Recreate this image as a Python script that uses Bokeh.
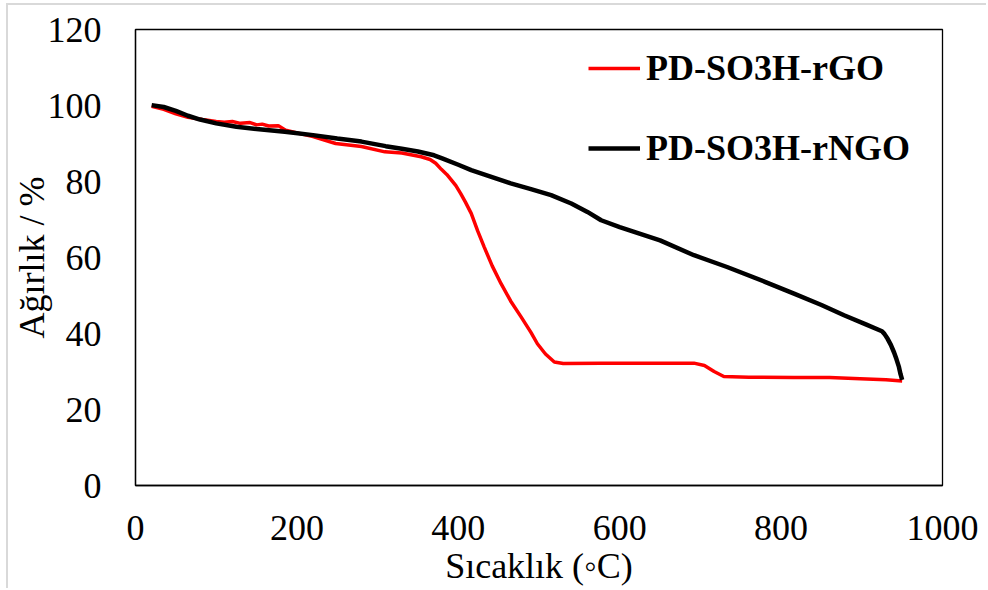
from bokeh.plotting import figure
from bokeh.models import Range1d, SingleIntervalTicker, Legend, LegendItem
from bokeh.embed import file_html
from bokeh.resources import INLINE

# ---- data ----
temp_rngo = [20, 35, 50, 65, 80, 100, 125, 150, 185, 220, 250, 280, 310, 330, 350, 370,
             380, 400, 416, 440, 465, 490, 515, 540, 560, 577, 600, 650, 692, 733, 780,
             816, 850, 878, 905, 925, 928, 932, 936, 940, 943, 946, 948, 950]
wt_rngo = [100.1, 99.6, 98.6, 97.3, 96.3, 95.3, 94.4, 93.8, 93.1, 92.2, 91.3, 90.5, 89.3,
           88.6, 87.9, 86.9, 86.1, 84.4, 83.0, 81.3, 79.5, 78.0, 76.4, 74.2, 72.0, 69.8,
           68.0, 64.5, 60.6, 57.5, 53.6, 50.5, 47.5, 44.8, 42.4, 40.6, 39.9, 38.6, 37.0,
           35.0, 33.2, 31.2, 29.3, 27.8]

temp_rgo = [20, 35, 50, 65, 83, 100, 110, 120, 130, 142, 150, 157, 165, 177, 186, 220, 248,
            280, 309, 330, 354, 365, 372, 379, 386, 391, 397, 403, 409, 416, 424, 432, 442,
            453, 465, 478, 490, 498, 508, 519, 530, 577, 640, 692, 705, 717, 729, 760, 816,
            860, 898, 930, 950]
wt_rgo = [99.8, 99.0, 97.8, 96.9, 96.3, 95.8, 95.6, 95.8, 95.3, 95.5, 94.9, 95.1, 94.6, 94.7,
          93.5, 91.8, 90.0, 89.2, 87.8, 87.5, 86.5, 85.8, 84.8, 83.2, 81.8, 80.5, 78.9, 76.8,
          74.5, 71.6, 67.0, 62.8, 57.8, 53.1, 48.5, 44.3, 40.3, 37.3, 34.6, 32.5, 32.1, 32.2,
          32.2, 32.2, 31.6, 30.0, 28.7, 28.5, 28.4, 28.4, 28.1, 27.8, 27.5]

series_names = ["PD-SO3H-rGO", "PD-SO3H-rNGO"]
x_label = "Sıcaklık (◦C)"
y_label = "Ağırlık / %"

FONT = "Liberation Serif"

# figure placed at (8, 5) inside the window, with a light chart border on top/left
p = figure(width=980, height=585, output_backend="svg", toolbar_location=None,
           x_range=Range1d(0, 1000), y_range=Range1d(0, 120),
           min_border_left=126, min_border_right=46, min_border_top=24, min_border_bottom=105)
p.margin = (5, 0, 0, 8)
p.styles = {"box-shadow": "-2px -2px 0 0 #d9d9d9"}
p.grid.visible = False
p.background_fill_color = "white"
p.border_fill_color = "white"
p.outline_line_color = "black"
p.outline_line_width = 1.3

r_rgo = p.line(temp_rgo, wt_rgo, line_color="#ff0000", line_width=3.5)
r_rngo = p.line(temp_rngo, wt_rngo, line_color="black", line_width=4.5)

p.xaxis.ticker = SingleIntervalTicker(interval=200)
p.yaxis.ticker = SingleIntervalTicker(interval=20)
for ax in (p.xaxis[0], p.yaxis[0]):
    ax.major_tick_out = 0
    ax.major_tick_in = 0
    ax.minor_tick_out = 0
    ax.minor_tick_in = 0
    ax.axis_line_color = "black"
    ax.axis_line_width = 1.3
    ax.major_label_text_font = FONT
    ax.major_label_text_font_size = "36px"
    ax.major_label_text_color = "black"
    ax.axis_label_text_font = FONT
    ax.axis_label_text_font_size = "36px"
    ax.axis_label_text_font_style = "normal"
    ax.axis_label_text_color = "black"
p.xaxis.axis_label = x_label
p.yaxis.axis_label = y_label
p.yaxis.major_label_standoff = 34
p.xaxis.major_label_standoff = 30
p.yaxis.axis_label_standoff = -7
p.xaxis.axis_label_standoff = 3

legend = Legend(items=[LegendItem(label=series_names[0], renderers=[r_rgo]),
                       LegendItem(label=series_names[1], renderers=[r_rngo])],
                location=(453, 316), padding=0, margin=0, spacing=38,
                glyph_width=52, glyph_height=40, label_height=40, label_standoff=6,
                label_text_font=FONT, label_text_font_size="36px",
                label_text_font_style="bold", label_text_color="black",
                border_line_alpha=0, background_fill_alpha=0)
p.add_layout(legend)

open("out.html", "w").write(file_html(p, INLINE))
